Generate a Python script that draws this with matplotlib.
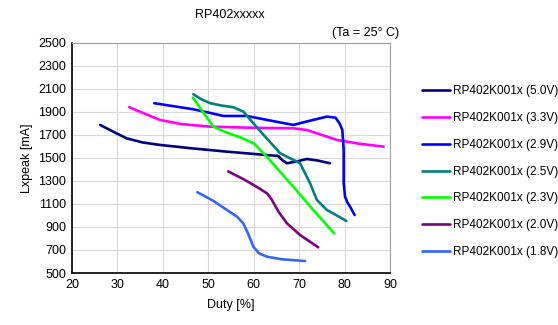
import matplotlib
matplotlib.use("Agg")
import matplotlib.pyplot as plt

plt.rcParams['font.family'] = ['Liberation Sans', 'DejaVu Sans']

labels = ['RP402K001x (5.0V)', 'RP402K001x (3.3V)', 'RP402K001x (2.9V)',
          'RP402K001x (2.5V)', 'RP402K001x (2.3V)', 'RP402K001x (2.0V)',
          'RP402K001x (1.8V)']
colors = ['#000080', '#ff00ff', '#0000ff', '#008080', '#00ff00', '#800080', '#3366ff']

duty_50 = [26.2, 29, 32, 35.5, 39.4, 46, 54, 60, 65.4, 66.3, 67.3, 69.5, 71.7, 74, 76.8]
ipk_50 = [1787, 1730, 1671, 1635, 1613, 1585, 1555, 1535, 1517, 1480, 1454, 1470, 1491, 1478, 1454]

duty_33 = [32.6, 36, 39.4, 44, 50.4, 60, 68.7, 71.7, 75, 78.3, 83, 88.6]
ipk_33 = [1941, 1885, 1830, 1795, 1772, 1762, 1758, 1743, 1700, 1657, 1625, 1598]

duty_29 = [38.1, 42, 46.7, 50, 53.3, 58.5, 63, 68.7, 72, 76.1, 78.0, 78.9, 79.5, 79.8, 79.8, 80.1, 80.6, 81.2, 82.2]
ipk_29 = [1976, 1952, 1923, 1895, 1865, 1865, 1830, 1787, 1820, 1859, 1850, 1800, 1743, 1570, 1280, 1163, 1115, 1077, 1004]

duty_25 = [46.7, 48.5, 50.4, 53, 55.5, 57.7, 61.2, 65.8, 70.2, 72.4, 73.9, 76.1, 78.5, 80.4]
ipk_25 = [2054, 2010, 1976, 1955, 1941, 1903, 1743, 1541, 1454, 1280, 1135, 1048, 995, 952]

duty_23 = [46.6, 49, 51.1, 54.1, 57, 60, 62.9, 65.8, 68.7, 73.1, 77.7]
ipk_23 = [2025, 1890, 1772, 1720, 1680, 1628, 1511, 1380, 1251, 1048, 845]

duty_20 = [54.4, 58, 61.2, 63, 64, 65.5, 67.3, 70.2, 74.2]
ipk_20 = [1383, 1310, 1236, 1190, 1135, 1030, 932, 830, 723]

duty_18 = [47.6, 51, 54.1, 56.3, 57.7, 58.9, 59.9, 61.2, 62.9, 66, 71.3]
ipk_18 = [1202, 1130, 1048, 990, 932, 830, 729, 670, 642, 620, 604]

duties = [duty_50, duty_33, duty_29, duty_25, duty_23, duty_20, duty_18]
ipks = [ipk_50, ipk_33, ipk_29, ipk_25, ipk_23, ipk_20, ipk_18]

fig = plt.figure(figsize=(5.58, 3.25), dpi=100)
ax = fig.add_axes([0.129, 0.16, 0.570, 0.708])

for x, y, c, lab in zip(duties, ipks, colors, labels):
    ax.plot(x, y, color=c, lw=1.9, label=lab, solid_joinstyle='round', solid_capstyle='round')

ax.set_xlim(20, 90)
ax.set_ylim(500, 2500)
ax.set_xticks(range(20, 91, 10))
ax.set_yticks(range(500, 2501, 200))
ax.grid(True, color='#d9d9d9', lw=0.8)
ax.set_axisbelow(True)
ax.tick_params(length=0, labelsize=9, pad=4)
for s in ['top', 'right']:
    ax.spines[s].set_color('#a0a0a0')
for s in ['left', 'bottom']:
    ax.spines[s].set_color('black')
    ax.spines[s].set_linewidth(1.2)

ax.set_xlabel('Duty [%]', fontsize=9, labelpad=6)
ax.set_ylabel('Lxpeak [mA]', fontsize=9, labelpad=4)

fig.text(0.412, 0.955, 'RP402xxxxx', fontsize=9, ha='center', va='center')
fig.text(0.716, 0.898, '(Ta = 25\u00b0 C)', fontsize=9, ha='right', va='center')

ax.legend(loc='upper left', bbox_to_anchor=(1.10, 0.815), frameon=False, fontsize=8.5,
          handlelength=2.4, handletextpad=0.2, labelspacing=1.25, borderaxespad=0,
          borderpad=0)

fig.savefig('out.png', dpi=100)
